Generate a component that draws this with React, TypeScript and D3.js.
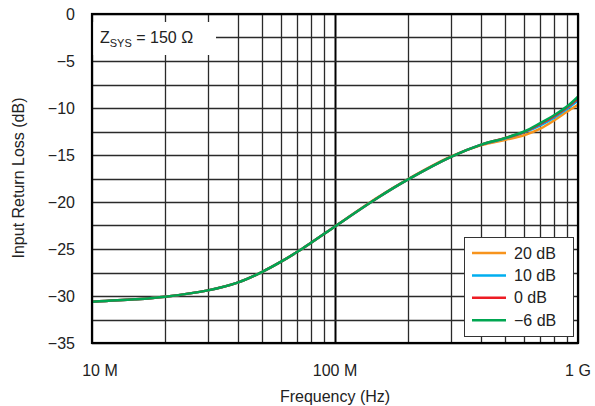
import React from "react";
import * as d3 from "d3";

const freqs = [10e6, 15e6, 20e6, 30e6, 40e6, 50e6, 60e6, 70e6, 80e6, 90e6, 100e6, 150e6, 200e6, 300e6, 400e6, 500e6, 600e6, 700e6, 800e6, 900e6, 1000e6];
const s20 = [-30.6, -30.35, -30.07, -29.4, -28.55, -27.45, -26.35, -25.3, -24.3, -23.4, -22.6, -19.5, -17.55, -15.15, -13.95, -13.4, -12.9, -12.2, -11.3, -10.4, -9.65];
const s10 = [-30.6, -30.35, -30.07, -29.4, -28.55, -27.45, -26.35, -25.3, -24.3, -23.4, -22.6, -19.55, -17.6, -15.2, -13.9, -13.25, -12.6, -11.85, -11.0, -10.1, -9.2];
const s0 = [-30.6, -30.35, -30.07, -29.4, -28.55, -27.45, -26.35, -25.3, -24.3, -23.4, -22.6, -19.55, -17.6, -15.2, -13.9, -13.2, -12.55, -11.7, -10.85, -9.95, -9.0];
const sm6 = [-30.6, -30.35, -30.07, -29.4, -28.55, -27.45, -26.35, -25.3, -24.3, -23.4, -22.6, -19.55, -17.6, -15.2, -13.9, -13.2, -12.5, -11.6, -10.75, -9.85, -8.8];

const seriesNames = ["20 dB", "10 dB", "0 dB", "\u22126 dB"];
const seriesColors = ["#f7941d", "#00aeef", "#ed1c24", "#00a651"];
const seriesValues = [s20, s10, s0, sm6];

const yTicks = [0, -5, -10, -15, -20, -25, -30, -35];
const xTicks = [10e6, 100e6, 1e9];
const xTickLabels = ["10 M", "100 M", "1 G"];

const FONT = "'Liberation Sans', Arial, Helvetica, sans-serif";

export default function App() {
  const L = 92, R = 578, T = 14, B = 343;
  const x = d3.scaleLog().domain([10e6, 1e9]).range([L, R]);
  const y = d3.scaleLinear().domain([-35, 0]).range([B, T]);

  const vGrid: number[] = [];
  for (const dec of [10e6, 100e6]) for (let k = 1; k <= 9; k++) vGrid.push(dec * k);
  vGrid.push(1e9);
  const hGrid: number[] = d3.range(0, 15).map((i) => -35 + i * 2.5);

  const line = d3
    .line<[number, number]>()
    .x((d) => x(d[0]))
    .y((d) => y(d[1]))
    .curve(d3.curveCatmullRom.alpha(0.5));

  const order = [0, 1, 2, 3];

  const legX = 464, legY = 237, legW = 109, legH = 99;

  return (
    <svg width={595} height={406} style={{ position: "absolute", left: 0, top: 0, background: "#fff" }} fontFamily={FONT}>
      <rect x={0} y={0} width={595} height={406} fill="#fff" />
      {/* grid */}
      {vGrid.map((f, i) => {
        const xx = Math.round(x(f)) + 0.5;
        const decade = f === 100e6;
        return <line key={"v" + i} x1={xx} x2={xx} y1={T} y2={B} stroke={decade ? "#000" : "#2a2a2a"} strokeWidth={decade ? 2 : 1.3} />;
      })}
      {hGrid.map((v, i) => {
        const yy = Math.round(y(v)) + 0.5;
        return <line key={"h" + i} x1={L} x2={R} y1={yy} y2={yy} stroke="#2a2a2a" strokeWidth={1.3} />;
      })}
      {/* title box */}
      <rect x={L + 1} y={22} width={123} height={33} fill="#fff" />
      <text x={100} y={43} fontSize={16} fill="#222">
        Z<tspan fontSize={11} dy={4}>SYS</tspan>
        <tspan dy={-4}> = 150 Ω</tspan>
      </text>
      {/* curves */}
      {order.map((si) => {
        const pts: [number, number][] = freqs.map((f, i) => [f, seriesValues[si][i]]);
        return <path key={"s" + si} d={line(pts) || ""} fill="none" stroke={seriesColors[si]} strokeWidth={2.5} strokeLinejoin="round" />;
      })}
      {/* frame */}
      <rect x={L} y={T} width={R - L} height={B - T} fill="none" stroke="#000" strokeWidth={2.2} />
      {/* legend */}
      <rect x={legX + 0.5} y={legY + 0.5} width={legW} height={legH} fill="#fff" stroke="#333" strokeWidth={1} />
      {seriesNames.map((n, i) => {
        const yy = 253 + i * 22.4;
        return (
          <g key={"l" + i}>
            <line x1={472} x2={506} y1={yy} y2={yy} stroke={seriesColors[i]} strokeWidth={2.5} />
            <text x={514} y={yy + 5.5} fontSize={16} fill="#222">{n}</text>
          </g>
        );
      })}
      {/* y ticks */}
      {yTicks.map((v) => (
        <text key={"yt" + v} x={75} y={y(v) + 6} fontSize={16} textAnchor="end" fill="#222">
          {v === 0 ? "0" : "\u2212" + Math.abs(v)}
        </text>
      ))}
      {/* x ticks */}
      {xTicks.map((f, i) => (
        <text key={"xt" + i} x={x(f) + (i === 0 ? 8 : 0)} y={376} fontSize={16} textAnchor="middle" fill="#222">
          {xTickLabels[i]}
        </text>
      ))}
      <text x={335} y={402} fontSize={16} textAnchor="middle" fill="#222">Frequency (Hz)</text>
      <text transform="translate(24,178) rotate(-90)" fontSize={16} textAnchor="middle" fill="#222">Input Return Loss (dB)</text>
    </svg>
  );
}
